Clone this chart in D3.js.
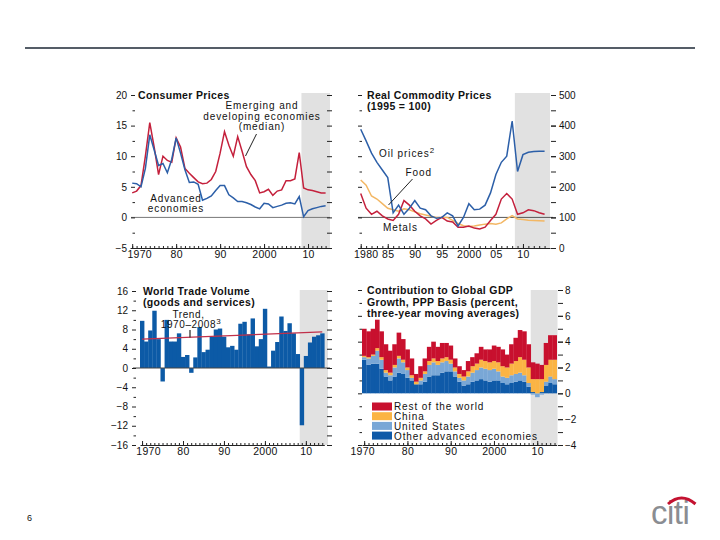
<!DOCTYPE html>
<html><head><meta charset="utf-8">
<script src="https://cdn.jsdelivr.net/npm/d3@7"></script>
<style>
body{margin:0;background:#fff}
svg{display:block}
text{font-family:"Liberation Sans",Arial,Helvetica,sans-serif;fill:#111}
</style>
</head><body>
<svg id="c" width="720" height="540"></svg>
<script>
// ---------------- DATA ----------------
const years = d3.range(1970, 2015);             // 1970–2014
const commodityYears = d3.range(1980, 2015);    // 1980–2014

const cpiEmerging = [4.0,4.3,5.2,10.0,15.5,11.5,7.0,10.0,9.3,9.0,13.0,11.5,8.0,7.2,6.5,5.8,5.5,5.6,6.2,7.5,
  10.5,14.0,11.8,10.0,13.2,10.8,8.3,7.0,6.0,4.0,4.2,4.6,3.6,4.3,4.5,6.0,6.0,6.3,10.6,4.8,4.5,4.4,4.2,4.0,4.0];
const cpiAdvanced = [5.6,5.5,5.0,8.0,13.5,11.0,8.5,8.8,7.3,9.5,13.0,10.5,7.8,5.7,5.8,5.4,2.8,3.1,3.5,4.4,
  5.2,5.2,3.7,3.2,2.6,2.6,2.4,2.1,1.7,1.4,2.3,2.2,1.6,1.8,2.0,2.3,2.4,2.2,3.4,0.1,1.1,1.4,1.6,1.8,1.9];

const oilPrices = [388,350,310,280,255,230,115,140,110,130,155,130,125,105,97,100,115,105,72,100,
  145,125,127,140,180,240,280,300,415,250,305,313,315,316,316];
const foodPrices = [222,205,170,160,145,130,125,120,128,125,118,112,108,104,100,100,100,90,80,73,
  70,72,75,78,80,78,82,95,106,95,93,91,90,89,88];
const metalsPrices = [178,130,110,120,105,95,90,110,155,140,120,105,95,78,90,100,88,85,68,68,
  72,65,62,68,90,110,160,178,160,110,115,125,122,115,110];

const tradeVolume = [9.8,5.5,7.8,11.9,6.0,-2.8,10.0,5.5,5.5,7.2,2.3,2.7,-1.0,2.2,8.5,3.3,3.8,6.5,8.0,8.2,
  6.5,4.3,4.6,3.8,9.2,9.6,7.0,10.3,4.5,6.0,12.3,0.3,3.6,5.4,10.7,7.7,9.3,7.2,2.9,-11.9,2.5,5.3,6.5,6.8,7.2];
const tradeTrendYears = [1970, 2014];
const tradeTrend = [6.0, 7.5];

const gdpOtherAdvanced = [2.6,2.2,2.3,2.3,1.9,1.3,1.0,1.3,1.6,1.5,1.2,1.0,0.7,0.7,0.9,1.3,1.4,1.4,1.6,1.7,
  1.7,1.3,0.9,0.6,0.7,0.9,1.0,1.1,1.0,0.9,1.0,1.0,0.8,0.7,0.8,0.9,1.0,0.9,0.5,0.1,0.0,0.1,0.6,0.8,0.7];
const gdpUnitedStates = [0.2,0.5,0.6,1.0,0.7,0.3,0.4,0.7,1.1,0.9,0.6,0.2,0.0,0.3,0.6,0.9,1.0,0.8,0.8,0.8,
  0.6,0.4,0.3,0.4,0.6,0.7,0.8,0.9,0.9,0.9,0.9,0.7,0.5,0.5,0.6,0.6,0.6,0.5,0.3,-0.1,-0.3,-0.1,0.3,0.5,0.4];
const gdpChina = [0.1,0.1,0.1,0.2,0.2,0.2,0.2,0.2,0.2,0.2,0.2,0.2,0.2,0.2,0.2,0.3,0.3,0.3,0.3,0.3,
  0.3,0.3,0.3,0.3,0.4,0.5,0.5,0.6,0.6,0.6,0.6,0.7,0.8,0.8,0.9,1.0,1.2,1.2,1.2,1.0,1.1,1.0,1.3,1.3,1.5];
const gdpRestOfWorld = [2.1,2.0,2.0,2.2,2.0,2.0,1.7,1.6,1.8,1.6,1.4,1.3,0.6,0.9,1.0,1.1,1.3,1.1,1.2,1.1,
  1.1,0.7,0.6,0.5,0.8,0.7,0.8,1.0,0.9,1.0,1.2,1.2,1.3,1.0,1.5,1.8,2.1,2.2,1.8,1.3,1.2,1.1,1.7,1.9,1.9];

const cpiYTicks = [-5,0,5,10,15,20];
const commodityYTicks = [0,100,200,300,400,500];
const tradeYTicks = [-16,-12,-8,-4,0,4,8,12,16];
const gdpYTicks = [-4,-2,0,2,4,6,8];
const decadeTicks = [1970,1980,1990,2000,2010];
const decadeLabels = ["1970","80","90","2000","10"];
const commodityXTicks = [1980,1985,1990,1995,2000,2005,2010];
const commodityXLabels = ["1980","85","90","95","2000","05","10"];
const gdpKeys = ["other","us","china","row"];
const gdpLegend = ["Rest of the world","China","United States","Other advanced economies"];

// ---------------- STYLE ----------------
const SHADE = "#e1e1e1";
const RED = "#c4203c", BLUE = "#2c5fa8", BAR = "#0c5aa6", ORANGE = "#f3b764";
const gdpColors = {other:"#0f5aa8", us:"#79a7d6", china:"#fbb444", row:"#c8102e"};
const fmtMinus = v => (v < 0 ? "\u2212" + Math.abs(v) : String(v));

const svg = d3.select("#c");
svg.append("line").attr("x1",25).attr("x2",695).attr("y1",48).attr("y2",48)
  .attr("stroke","#1d2734").attr("stroke-width",1.6);

function styleAxis(g, fs) {
  g.attr("font-family", null).attr("font-size", null);
  g.select(".domain").remove();
  g.selectAll("line").attr("stroke","#222").attr("stroke-width",1);
  g.selectAll("text").attr("font-size", fs).attr("fill","#111");
}
function yAxes(g, y, o) {
  const L = g.append("g").attr("transform",`translate(${o.lx},0)`)
    .call(d3.axisLeft(y).tickValues(o.labelTicks).tickSize(o.lMajor).tickPadding(4).tickFormat(o.leftFmt || (()=>"")));
  styleAxis(L, 10);
  const Lm = g.append("g").attr("transform",`translate(${o.lx},0)`)
    .call(d3.axisLeft(y).tickValues(o.minorTicks).tickSize(2.5).tickFormat(""));
  styleAxis(Lm, 10);
  const R = g.append("g").attr("transform",`translate(${o.rx},0)`)
    .call(d3.axisRight(y).tickValues(o.allTicks).tickSize(5).tickPadding(o.rPad || 3).tickFormat(""));
  styleAxis(R, 10);
  if (o.rightFmt) {
    const R2 = g.append("g").attr("transform",`translate(${o.rx},0)`)
      .call(d3.axisRight(y).tickValues(o.labelTicks).tickSize(5).tickPadding(o.rPad || 3).tickFormat(o.rightFmt));
    styleAxis(R2, 10);
  }
}
function xAxis(g, x, yPos, tickYears, majorTicks, labels, firstDx) {
  const A = g.append("g").attr("transform",`translate(0,${yPos})`)
    .call(d3.axisBottom(x).tickValues(tickYears).tickSizeInner(-2).tickSizeOuter(0).tickFormat(""));
  A.attr("font-family", null).attr("font-size", null);
  A.select(".domain").attr("stroke","#222");
  A.selectAll("line").attr("stroke","#222");
  const B = g.append("g").attr("transform",`translate(0,${yPos})`)
    .call(d3.axisBottom(x).tickValues(majorTicks).tickSizeInner(-4).tickPadding(2)
      .tickFormat((d,i)=>labels[i]));
  styleAxis(B, 10.5);
  B.selectAll("text").attr("dy","0.75em").attr("letter-spacing",0.3)
    .attr("dx",(d,i)=> i===0 ? firstDx : 0);
}
function addText(g, x, y, str, o={}) {
  return g.append("text").attr("x",x).attr("y",y).text(str)
    .attr("font-size", o.fs || 10).attr("font-weight", o.bold ? "bold" : null)
    .attr("letter-spacing", o.ls == null ? 0.9 : o.ls)
    .attr("text-anchor", o.anchor || "start");
}

// ---------------- PANEL 1: Consumer Prices ----------------
{
  const g = svg.append("g");
  const x = d3.scaleLinear().domain([1969.5, 2015]).range([130, 330]);
  const y = d3.scaleLinear().domain([-5, 20]).range([248, 95]);
  g.append("rect").attr("x",x(2008.5)).attr("y",y(20)-2).attr("width",x(2015)-x(2008.5))
    .attr("height",y(-5)-y(20)+2).attr("fill",SHADE);
  g.append("line").attr("x1",131).attr("x2",330).attr("y1",y(0)).attr("y2",y(0))
    .attr("stroke","#777").attr("stroke-width",1);
  const line = d3.line().x((d,i)=>x(years[i])).y(d=>y(d));
  g.append("path").datum(cpiEmerging).attr("d",line).attr("fill","none").attr("stroke",RED).attr("stroke-width",1.5);
  g.append("path").datum(cpiAdvanced).attr("d",line).attr("fill","none").attr("stroke",BLUE).attr("stroke-width",1.5);
  yAxes(g, y, {lx:135, rx:327, lMajor:4, labelTicks:cpiYTicks, minorTicks:[-2.5,2.5,7.5,12.5,17.5],
    allTicks:d3.range(-5,20.01,2.5), leftFmt:fmtMinus});
  xAxis(g, x, y(-5), years, decadeTicks, decadeLabels, 7);
  addText(g, 138, 99, "Consumer Prices", {bold:true, fs:10.5, ls:0.35});
  addText(g, 262, 109, "Emerging and", {anchor:"middle"});
  addText(g, 262, 119.5, "developing economies", {anchor:"middle"});
  addText(g, 262, 130, "(median)", {anchor:"middle"});
  g.append("line").attr("x1",256.5).attr("y1",134).attr("x2",245.5).attr("y2",156).attr("stroke","#222").attr("stroke-width",1);
  addText(g, 176, 202, "Advanced", {anchor:"middle"});
  addText(g, 176, 212, "economies", {anchor:"middle"});
}

// ---------------- PANEL 2: Real Commodity Prices ----------------
{
  const g = svg.append("g");
  const x = d3.scaleLinear().domain([1979.5, 2015]).range([358, 550]);
  const y = d3.scaleLinear().domain([0, 500]).range([248, 95]);
  g.append("rect").attr("x",x(2008.5)).attr("y",y(500)-2).attr("width",x(2015)-x(2008.5))
    .attr("height",y(0)-y(500)+2).attr("fill",SHADE);
  g.append("line").attr("x1",358).attr("x2",553).attr("y1",y(100)).attr("y2",y(100))
    .attr("stroke","#555").attr("stroke-width",1);
  const line = d3.line().x((d,i)=>x(commodityYears[i])).y(d=>y(d));
  g.append("path").datum(foodPrices).attr("d",line).attr("fill","none").attr("stroke",ORANGE).attr("stroke-width",1.5);
  g.append("path").datum(metalsPrices).attr("d",line).attr("fill","none").attr("stroke",RED).attr("stroke-width",1.5);
  g.append("path").datum(oilPrices).attr("d",line).attr("fill","none").attr("stroke",BLUE).attr("stroke-width",1.5);
  yAxes(g, y, {lx:362, rx:551, lMajor:4, labelTicks:commodityYTicks, minorTicks:[50,150,250,350,450],
    allTicks:d3.range(0,500.1,50), rightFmt:d=>String(d), rPad:3});
  xAxis(g, x, y(0), commodityYears, commodityXTicks, commodityXLabels, 5);
  addText(g, 367, 99, "Real Commodity Prices", {bold:true, fs:10.5, ls:0.35});
  addText(g, 367, 109.5, "(1995 = 100)", {bold:true, fs:10.5, ls:0.35});
  const t = addText(g, 379, 157, "Oil prices");
  t.append("tspan").attr("dy",-4).attr("font-size",8).text("2");
  addText(g, 405.5, 176, "Food");
  g.append("line").attr("x1",412.5).attr("y1",179).attr("x2",388.5).attr("y2",205).attr("stroke","#222").attr("stroke-width",1);
  addText(g, 383, 231, "Metals");
}

// ---------------- PANEL 3: World Trade Volume ----------------
{
  const g = svg.append("g");
  const x = d3.scaleLinear().domain([1969.5, 2014.5]).range([140, 324.3]);
  const y = d3.scaleLinear().domain([-16, 16]).range([445, 291]);
  g.append("rect").attr("x",x(2008.5)).attr("y",y(16)-1).attr("width",328-x(2008.5))
    .attr("height",y(-16)-y(16)+1).attr("fill",SHADE);
  g.selectAll("rect.bar").data(tradeVolume).join("rect").attr("class","bar")
    .attr("x",(d,i)=>x(years[i]-0.5)).attr("width",(d,i)=>x(years[i]+0.5)-x(years[i]-0.5)+0.3)
    .attr("y",d=>y(Math.max(0,d))).attr("height",d=>Math.abs(y(d)-y(0))).attr("fill",BAR);
  g.append("line").attr("x1",133).attr("x2",330).attr("y1",y(0)).attr("y2",y(0))
    .attr("stroke","#444").attr("stroke-width",1);
  g.append("path").datum(tradeTrend)
    .attr("d", d3.line().x((d,i)=>x(tradeTrendYears[i])).y(d=>y(d)))
    .attr("fill","none").attr("stroke","#c0304a").attr("stroke-width",1.3);
  yAxes(g, y, {lx:136, rx:327, lMajor:4, labelTicks:tradeYTicks, minorTicks:[-14,-10,-6,-2,2,6,10,14],
    allTicks:d3.range(-16,16.01,2), leftFmt:fmtMinus});
  xAxis(g, x, y(-16), years, decadeTicks, decadeLabels, 6);
  addText(g, 143, 295, "World Trade Volume", {bold:true, fs:10.5, ls:0.35});
  addText(g, 143, 305.5, "(goods and services)", {bold:true, fs:10.5, ls:0.35});
  addText(g, 188.5, 318, "Trend,", {anchor:"middle", ls:0.6});
  const t = addText(g, 191, 328, "1970\u20132008", {anchor:"middle", ls:0.6});
  t.append("tspan").attr("dy",-4).attr("font-size",8).text("3");
  g.append("line").attr("x1",190).attr("y1",330).attr("x2",190).attr("y2",337.5).attr("stroke","#222").attr("stroke-width",1.2);
}

// ---------------- PANEL 4: Contribution to Global GDP Growth ----------------
{
  const g = svg.append("g");
  const x = d3.scaleLinear().domain([1969.5, 2014.5]).range([362, 556.7]);
  const y = d3.scaleLinear().domain([-4, 8]).range([445, 290]);
  g.append("rect").attr("x",x(2008.5)).attr("y",y(8)).attr("width",557.5-x(2008.5))
    .attr("height",y(-4)-y(8)).attr("fill",SHADE);
  const table = years.map((yr,i)=>({year:yr, other:gdpOtherAdvanced[i], us:gdpUnitedStates[i],
    china:gdpChina[i], row:gdpRestOfWorld[i]}));
  const series = d3.stack().keys(gdpKeys).offset(d3.stackOffsetDiverging)(table);
  series.forEach(s=>{
    g.append("g").selectAll("rect").data(s).join("rect")
      .attr("x",d=>x(d.data.year-0.5)).attr("width",d=>x(d.data.year+0.5)-x(d.data.year-0.5)+0.3)
      .attr("y",d=>y(Math.max(d[0],d[1]))).attr("height",d=>Math.abs(y(d[0])-y(d[1])))
      .attr("fill",gdpColors[s.key]);
  });
  yAxes(g, y, {lx:362, rx:558, lMajor:4, labelTicks:gdpYTicks, minorTicks:[-3,-1,1,3,5,7],
    allTicks:d3.range(-4,8.01,1), rightFmt:fmtMinus, rPad:2});
  xAxis(g, x, y(-4), years, decadeTicks, decadeLabels, -2);
  addText(g, 367, 294, "Contribution to Global GDP", {bold:true, fs:10.5, ls:0.35});
  addText(g, 367, 305.5, "Growth, PPP Basis (percent,", {bold:true, fs:10.5, ls:0.35});
  addText(g, 367, 317, "three-year moving averages)", {bold:true, fs:10.5, ls:0.35});
  const legKeys = ["row","china","us","other"];
  legKeys.forEach((k,i)=>{
    g.append("rect").attr("x",372).attr("y",402.5+i*9.7).attr("width",20).attr("height",8)
      .attr("fill",gdpColors[k]);
    addText(g, 394, 409.5+i*10, gdpLegend[i], {ls:0.9});
  });
}

// ---------------- Page furniture ----------------
svg.append("text").attr("x",27).attr("y",521).attr("font-size",9).text("6");
svg.append("text").attr("x",651).attr("y",524).attr("font-size",33).attr("fill","#8a8d92")
  .attr("letter-spacing",-0.5).style("fill","#8a8d92").text("citi");
svg.append("path").attr("d","M668,504 Q681.5,492 695.5,504").attr("fill","none")
  .attr("stroke","#c41230").attr("stroke-width",3);
</script>
</body></html>
